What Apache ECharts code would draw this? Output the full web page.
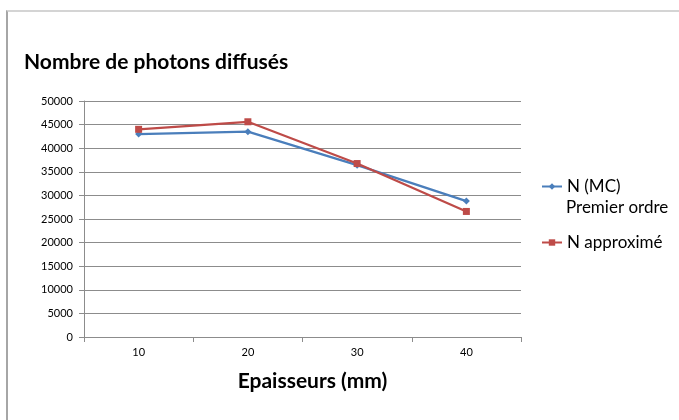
<!DOCTYPE html>
<html><head><meta charset="utf-8">
<script src="https://cdn.jsdelivr.net/npm/echarts@6/dist/echarts.min.js"></script>
<style>
html,body{margin:0;padding:0;background:#fff;}
#frame{position:absolute;left:6px;top:10px;width:700px;height:420px;border-left:2px solid #a6a6a6;border-top:2px solid #d4d4d4;box-sizing:border-box;}
#c{position:absolute;left:0;top:0;width:679px;height:420px;}
</style></head>
<body>
<div id="frame"></div>
<div id="c"></div>
<script>
const categories = ['10', '20', '30', '40'];
const seriesMC = [43000, 43500, 36400, 28800];
const seriesApprox = [44000, 45600, 36750, 26600];
const yTicks = [0, 5000, 10000, 15000, 20000, 25000, 30000, 35000, 40000, 45000, 50000];
const nameMC = 'N (MC)';
const nameMC2 = 'Premier ordre';
const nameApprox = 'N approximé';

const chart = echarts.init(document.getElementById('c'), null, {renderer: 'canvas'});
const font = 'Lato, "Open Sans", sans-serif';
chart.setOption({
  backgroundColor: 'transparent',
  animation: false,
  title: {
    text: 'Nombre de photons diffusés',
    left: 19, top: 47,
    textStyle: {fontFamily: font, fontWeight: 'bold', fontSize: 21, color: '#000'}
  },
  legend: {
    orient: 'vertical',
    left: 541, top: 178, padding: 0,
    itemWidth: 20, itemHeight: 8, itemGap: 39,
    textStyle: {fontFamily: font, fontSize: 17, color: '#000'},
    data: [nameMC, nameApprox]
  },
  graphic: [{
    type: 'text', left: 566, top: 199,
    style: {text: nameMC2, font: '17px ' + font, fill: '#000'}
  }],
  grid: {left: 84, right: 158, top: 101, bottom: 83},
  xAxis: {
    type: 'category',
    data: categories,
    boundaryGap: true,
    name: 'Epaisseurs (mm)',
    nameLocation: 'middle',
    nameGap: 34,
    nameTextStyle: {fontFamily: font, fontWeight: 'bold', fontSize: 21, color: '#000', padding: [0, 0, 0, 20]},
    axisLine: {lineStyle: {color: '#8c8c8c', width: 1}},
    axisTick: {show: true, length: 5, lineStyle: {color: '#8c8c8c'}},
    axisLabel: {fontFamily: font, fontSize: 11, color: '#000', margin: 10}
  },
  yAxis: {
    type: 'value',
    min: yTicks[0], max: yTicks[yTicks.length - 1], interval: 5000,
    axisLine: {show: true, lineStyle: {color: '#8c8c8c', width: 1}},
    axisTick: {show: true, length: 5, lineStyle: {color: '#8c8c8c'}},
    axisLabel: {fontFamily: font, fontSize: 11, color: '#000', margin: 11, formatter: v => String(v)},
    splitLine: {lineStyle: {color: '#8c8c8c', width: 1}}
  },
  series: [
    {
      name: nameMC, type: 'line', data: seriesMC,
      symbol: 'diamond', symbolSize: 7,
      lineStyle: {color: '#4a7ebb', width: 2.25},
      itemStyle: {color: '#4a7ebb'}
    },
    {
      name: nameApprox, type: 'line', data: seriesApprox,
      symbol: 'rect', symbolSize: 7,
      lineStyle: {color: '#be4b48', width: 2.25},
      itemStyle: {color: '#be4b48'}
    }
  ]
});
</script>
</body></html>
